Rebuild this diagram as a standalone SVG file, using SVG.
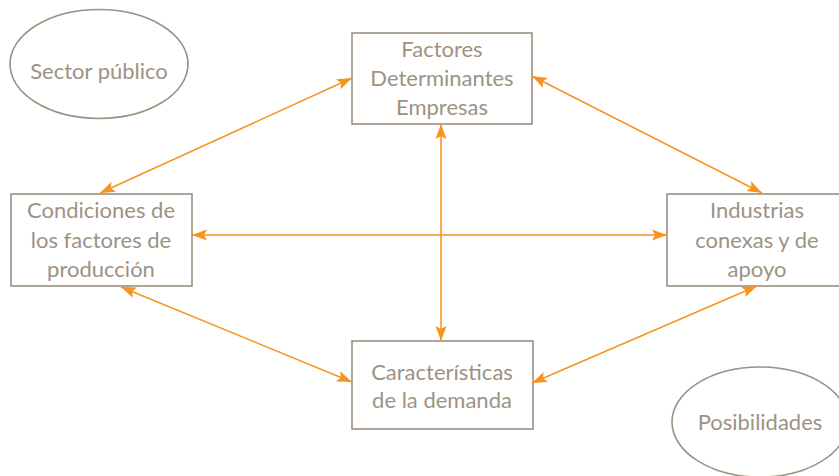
<svg xmlns="http://www.w3.org/2000/svg" width="839" height="476" viewBox="0 0 839 476">
<defs>
<marker id="ah" markerUnits="userSpaceOnUse" markerWidth="16" markerHeight="12" refX="15" refY="5.5" orient="auto-start-reverse" viewBox="0 0 16 11">
<path d="M0,0 L15,5.5 L0,11 L3,5.5 z" fill="#f7931e"/>
</marker>
<style>
.box{fill:#fff;stroke:#9c907f;stroke-width:1.6}
.t{font-family:Lato,"Open Sans","Liberation Sans",sans-serif;font-size:22px;fill:#9d9283;text-anchor:middle}
.c{stroke:#f7931e;stroke-width:1.5;fill:none;marker-start:url(#ah);marker-end:url(#ah)}
</style>
</defs>
<rect width="839" height="476" fill="#fff"/>
<g id="sector">
<ellipse class="box" cx="99" cy="64" rx="89" ry="54.5"/>
<text class="t" x="99" y="79">Sector público</text>
</g>
<g id="posibilidades">
<ellipse class="box" cx="760" cy="422" rx="88" ry="55"/>
<text class="t" x="760" y="430">Posibilidades</text>
</g>
<g id="factores">
<rect class="box" x="352" y="33" width="180" height="91"/>
<text class="t" x="442" y="57">Factores</text>
<text class="t" x="442" y="86">Determinantes</text>
<text class="t" x="442" y="115">Empresas</text>
</g>
<g id="condiciones">
<rect class="box" x="11" y="194" width="181" height="92"/>
<text class="t" x="101" y="218">Condiciones de</text>
<text class="t" x="101" y="248">los factores de</text>
<text class="t" x="101" y="277">producción</text>
</g>
<g id="industrias">
<rect class="box" x="667" y="194" width="180" height="92"/>
<text class="t" x="757" y="218">Industrias</text>
<text class="t" x="757" y="248">conexas y de</text>
<text class="t" x="757" y="277">apoyo</text>
</g>
<g id="demanda">
<rect class="box" x="352" y="341" width="181" height="88"/>
<text class="t" x="442" y="380">Características</text>
<text class="t" x="442" y="408">de la demanda</text>
</g>
<g id="connectors">
<line class="c" x1="100" y1="193" x2="352" y2="78"/>
<line class="c" x1="532" y1="76" x2="762" y2="193"/>
<line class="c" x1="192" y1="235" x2="667" y2="235"/>
<line class="c" x1="441" y1="124" x2="441" y2="341"/>
<line class="c" x1="121" y1="287" x2="352" y2="382"/>
<line class="c" x1="532" y1="383" x2="757" y2="286"/>
</g>
</svg>
